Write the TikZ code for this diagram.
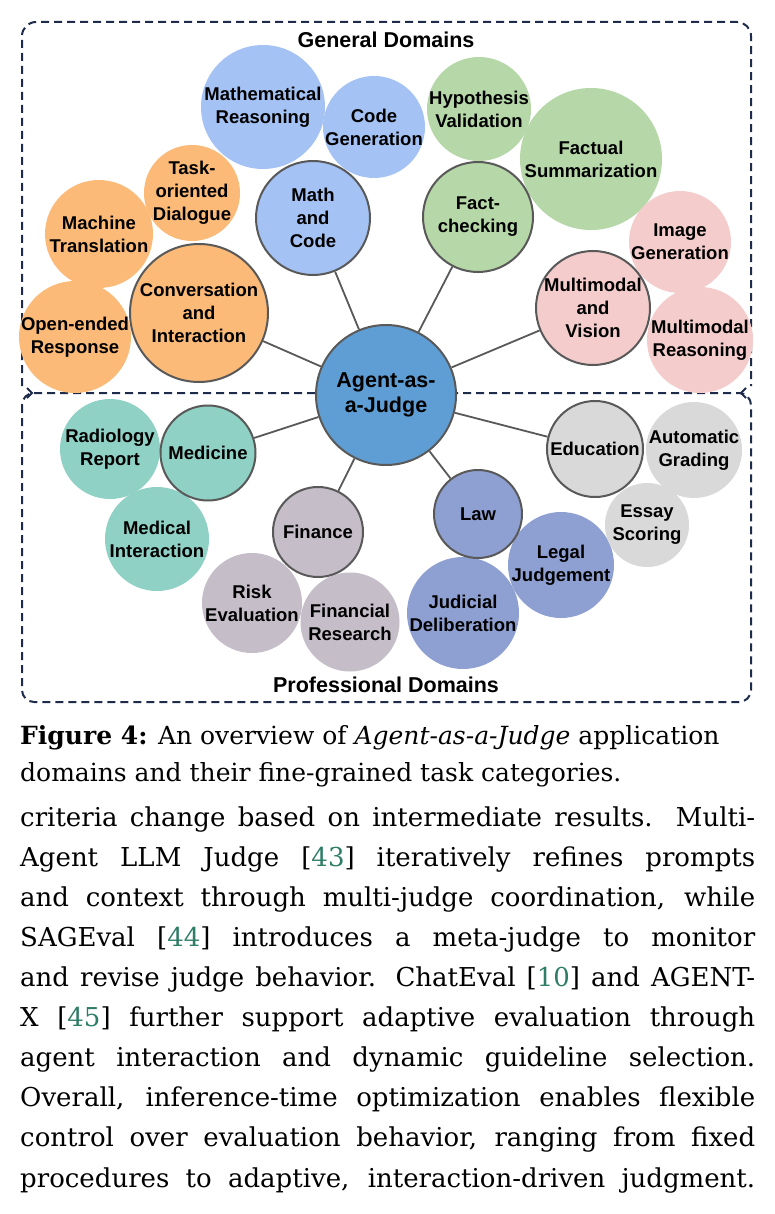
\documentclass[tikz,border=0pt]{standalone}
\usepackage{fontspec}
\setmainfont{DejaVu Serif}
\newfontfamily\arialf{Liberation Sans}
\definecolor{cor}{HTML}{FCBA78}
\definecolor{cblue}{HTML}{A4C2F4}
\definecolor{cgreen}{HTML}{B6D7A8}
\definecolor{cpink}{HTML}{F4CCCC}
\definecolor{cteal}{HTML}{8FD1C5}
\definecolor{cmauve}{HTML}{C5BDC8}
\definecolor{claw}{HTML}{8E9FD2}
\definecolor{cgray}{HTML}{D9D9D9}
\definecolor{cagent}{HTML}{5F9ED4}
\definecolor{edgegray}{HTML}{595959}
\definecolor{navy}{HTML}{1E2B4A}
\definecolor{citec}{HTML}{2E7D67}
\newcommand\mybub[6]{%
  \node[#2, fill=#3, minimum size=#4pt] (#1) at (#5) {};
  \node[lbl] (#1-t) at (#1.center) {#6};}
\newcommand\cit[1]{[\textcolor{citec}{#1}]}
\begin{document}
\begin{tikzpicture}[x=1pt,y=-1pt,
  leaf/.style={circle, inner sep=0pt},
  dom/.style={circle, inner sep=0pt, draw=edgegray, line width=2pt},
  lbl/.style={align=center, inner sep=0pt, text=black,
    font=\arialf\bfseries\fontsize{18.5}{23}\selectfont},
  title/.style={anchor=base, inner sep=0pt,
    font=\arialf\bfseries\fontsize{21.5}{25}\selectfont},
  dbox/.style={draw=navy, line width=2pt, dash pattern=on 8pt off 5pt},
  chev/.style={draw=navy, line width=2pt},
  conn/.style={draw=edgegray, line width=1.8pt},
  bodyl/.style={anchor=base west, inner sep=0pt,
    font=\fontsize{26}{40}\selectfont},
  capl/.style={anchor=base west, inner sep=0pt,
    font=\fontsize{25}{37}\selectfont}]
\useasboundingbox (0,0) rectangle (774,1214);
\fill[white] (0,0) rectangle (774,1214);
% dashed boxes
\draw[dbox, rounded corners=14pt] (22,386) -- (22,22) -- (751,22) -- (751,386);
\draw[dbox, rounded corners=12pt] (22,393) rectangle (751,702);
\draw[chev] (27,388) -- (32,393) -- (27,398);
\draw[chev] (746,388) -- (741,393) -- (746,398);
\node[title] (gd) at (386,48) {General Domains};
\node[title] (pd) at (386,692) {Professional Domains};
% leaves
\mybub{task}{leaf}{cor}{96}{192,193}{Task-\\oriented\\Dialogue}
\mybub{mt}{leaf}{cor}{108}{99,234}{Machine\\Translation}
\mybub{oer}{leaf}{cor}{112}{75,337}{Open-ended\\Response}
\mybub{mathr}{leaf}{cblue}{124}{263,107}{Mathematical\\Reasoning}
\mybub{codeg}{leaf}{cblue}{102}{374,127}{Code\\Generation}
\mybub{hypo}{leaf}{cgreen}{104}{479,109}{Hypothesis\\Validation}
\mybub{factsum}{leaf}{cgreen}{142}{591,159}{Factual\\Summarization}
\mybub{imgg}{leaf}{cpink}{102}{680,242}{Image\\Generation}
\mybub{mmr}{leaf}{cpink}{106}{700,340}{Multimodal\\Reasoning}
\mybub{radio}{leaf}{cteal}{100}{110,449}{Radiology\\Report}
\mybub{medint}{leaf}{cteal}{104}{157,539}{Medical\\Interaction}
\mybub{risk}{leaf}{cmauve}{100}{252,603}{Risk\\Evaluation}
\mybub{finr}{leaf}{cmauve}{99}{350,622}{Financial\\Research}
\mybub{jud}{leaf}{claw}{112}{463,613}{Judicial\\Deliberation}
\mybub{legal}{leaf}{claw}{106}{561,565}{Legal\\Judgement}
\mybub{autog}{leaf}{cgray}{96}{694,450}{Automatic\\Grading}
\mybub{essay}{leaf}{cgray}{84}{647,525}{Essay\\Scoring}
% domains
\mybub{conv}{dom}{cor}{138}{199,313}{Conversation\\and\\Interaction}
\mybub{mathcode}{dom}{cblue}{114}{313,218}{Math\\and\\Code}
\mybub{factc}{dom}{cgreen}{110}{478,217}{Fact-\\checking}
\mybub{mmv}{dom}{cpink}{114}{593,308}{Multimodal\\and\\Vision}
\mybub{med}{dom}{cteal}{95}{208,453}{Medicine}
\mybub{fin}{dom}{cmauve}{90}{318,532}{Finance}
\mybub{law}{dom}{claw}{88}{478,514}{Law}
\mybub{edu}{dom}{cgray}{96}{595,449}{Education}
% center
\node[dom, fill=cagent, minimum size=140pt] (agent) at (386,395) {};
\node[lbl, font=\arialf\bfseries\fontsize{21.5}{25}\selectfont] (agent-t) at (agent.center) {Agent-as-\\a-Judge};
% connectors
\foreach \d in {conv,mathcode,factc,mmv,med,fin,law,edu}
  \draw[conn] (agent) -- (\d);
% caption and body
\node[capl] (cap1) at (20,744) {\textbf{Figure 4:} An overview of \textit{Agent-as-a-Judge} application};
\node[capl] (cap2) at (20,781) {domains and their fine-grained task categories.};
\node[bodyl] (b1) at (20,826) {\makebox[735pt][s]{criteria change based on intermediate results. Multi-}};
\node[bodyl] (b2) at (20,866) {\makebox[735pt][s]{Agent LLM Judge \cit{43} iteratively refines prompts}};
\node[bodyl] (b3) at (20,906) {\makebox[735pt][s]{and context through multi-judge coordination, while}};
\node[bodyl] (b4) at (20,946) {\makebox[735pt][s]{SAGEval \cit{44} introduces a meta-judge to monitor}};
\node[bodyl] (b5) at (20,986) {\makebox[735pt][s]{and revise judge behavior. ChatEval \cit{10} and AGENT-}};
\node[bodyl] (b6) at (20,1026) {\makebox[735pt][s]{X \cit{45} further support adaptive evaluation through}};
\node[bodyl] (b7) at (20,1066) {\makebox[735pt][s]{agent interaction and dynamic guideline selection.}};
\node[bodyl] (b8) at (20,1106) {\makebox[735pt][s]{Overall, inference-time optimization enables flexible}};
\node[bodyl] (b9) at (20,1146) {\makebox[735pt][s]{control over evaluation behavior, ranging from fixed}};
\node[bodyl] (b10) at (20,1187) {\makebox[735pt][s]{procedures to adaptive, interaction-driven judgment.}};
\end{tikzpicture}
\end{document}
